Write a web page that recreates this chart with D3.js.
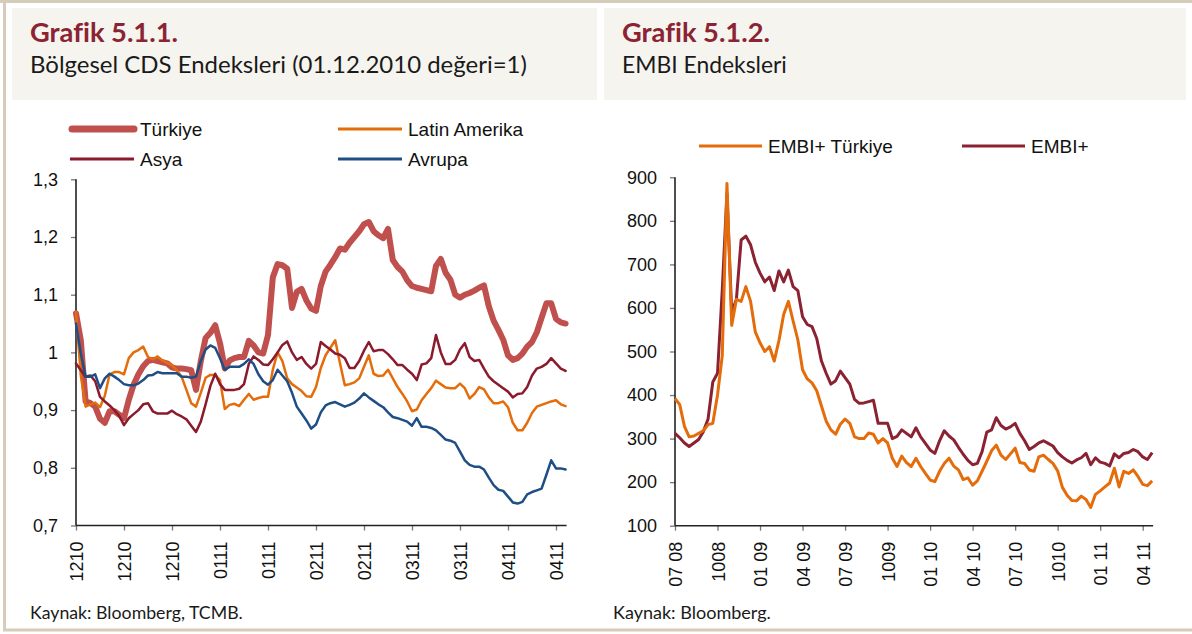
<!DOCTYPE html>
<html><head><meta charset="utf-8">
<script src="https://cdn.jsdelivr.net/npm/d3@7"></script>
<style>body{margin:0;background:#fff;} svg{display:block} text{font-variant-ligatures:none;font-feature-settings:"liga" 0;}</style>
</head><body><svg id="c" width="1192" height="634"></svg>
<script>
// ---------- Grafik 5.1.1 data (daily index, 01.12.2010 = 1) ----------
const cdsTickLabels = ["1210","1210","1210","0111","0111","0211","0211","0311","0311","0411","0411"];
const cdsTickIdx = [0,10,20,30,40,50,60,70,80,90,100];
const cdsYTicks = [0.7,0.8,0.9,1.0,1.1,1.2,1.3];
const cdsYTickLabels = ["0,7","0,8","0,9","1","1,1","1,2","1,3"];
const cdsSeriesNames = ["Türkiye","Latin Amerika","Asya","Avrupa"];

const turkiye = [1.068,1.021,0.915,0.912,0.906,0.885,0.878,0.898,0.898,0.892,
0.886,0.918,0.944,0.962,0.976,0.985,0.987,0.985,0.983,0.981,
0.974,0.972,0.972,0.971,0.969,0.935,0.985,1.025,1.034,1.047,
1.016,0.972,0.986,0.990,0.992,0.992,1.020,1.012,1.000,0.998,
1.030,1.130,1.153,1.151,1.145,1.077,1.105,1.110,1.090,1.076,
1.072,1.115,1.140,1.152,1.165,1.180,1.178,1.190,1.200,1.210,
1.222,1.226,1.210,1.203,1.198,1.214,1.160,1.148,1.140,1.125,
1.115,1.112,1.110,1.108,1.106,1.150,1.162,1.138,1.126,1.100,
1.095,1.100,1.103,1.107,1.112,1.116,1.080,1.055,1.039,1.022,
0.995,0.987,0.990,0.998,1.010,1.018,1.035,1.060,1.085,1.085,
1.058,1.052,1.050];
const latinAmerika = [1.070,0.960,0.906,0.910,0.913,0.905,0.925,0.962,0.966,0.966,
0.962,0.990,1.000,1.004,1.010,0.992,0.988,0.993,0.986,0.982,
0.978,0.969,0.958,0.935,0.912,0.906,0.930,0.956,0.961,0.961,
0.952,0.902,0.909,0.911,0.907,0.918,0.928,0.918,0.921,0.923,
0.923,0.970,1.000,0.985,0.955,0.945,0.939,0.933,0.924,0.923,
0.940,0.973,0.995,1.008,1.021,0.981,0.943,0.945,0.948,0.955,
0.975,0.995,0.963,0.959,0.960,0.970,0.955,0.940,0.928,0.915,
0.898,0.901,0.917,0.928,0.938,0.951,0.945,0.939,0.938,0.938,
0.946,0.938,0.920,0.928,0.940,0.936,0.922,0.912,0.912,0.915,
0.905,0.878,0.865,0.865,0.878,0.895,0.906,0.909,0.912,0.915,
0.917,0.910,0.907];
const asya = [0.981,0.969,0.958,0.960,0.950,0.923,0.915,0.908,0.900,0.890,
0.874,0.886,0.893,0.900,0.910,0.912,0.898,0.894,0.894,0.894,
0.899,0.893,0.889,0.884,0.873,0.862,0.880,0.910,0.942,0.963,
0.945,0.935,0.935,0.935,0.937,0.945,0.980,0.993,0.987,0.979,
0.978,0.988,1.000,1.013,1.019,1.000,0.987,0.992,0.980,0.972,
0.980,1.018,1.011,1.005,0.998,0.996,0.990,0.973,0.973,0.985,
1.003,1.018,1.002,1.004,1.004,0.997,0.988,0.978,0.978,0.970,
0.963,0.952,0.979,0.981,0.990,1.030,1.000,0.980,0.980,0.987,
1.005,1.016,0.992,0.985,0.987,0.972,0.958,0.950,0.944,0.938,
0.932,0.922,0.928,0.929,0.940,0.960,0.972,0.975,0.980,0.990,
0.981,0.972,0.968];
const avrupa = [1.050,0.998,0.958,0.958,0.962,0.938,0.955,0.963,0.958,0.952,
0.945,0.943,0.943,0.946,0.952,0.960,0.961,0.966,0.964,0.964,
0.964,0.964,0.958,0.958,0.956,0.958,0.985,1.005,1.012,1.008,
0.990,0.970,0.975,0.975,0.975,0.980,0.988,0.980,0.962,0.950,
0.944,0.952,0.970,0.960,0.950,0.930,0.906,0.894,0.882,0.868,
0.875,0.896,0.908,0.912,0.914,0.910,0.906,0.909,0.913,0.920,
0.929,0.922,0.916,0.910,0.905,0.896,0.888,0.886,0.883,0.880,
0.873,0.886,0.871,0.871,0.869,0.865,0.857,0.849,0.847,0.843,
0.828,0.813,0.805,0.802,0.802,0.797,0.783,0.770,0.762,0.760,
0.750,0.740,0.738,0.741,0.754,0.758,0.761,0.764,0.788,0.813,
0.799,0.799,0.797];

// ---------- Grafik 5.1.2 data (one value per ~10 days from 07.2008) ----------
const embiTickLabels = ["07 08","1008","01 09","04 09","07 09","1009","01 10","04 10","07 10","1010","01 11","04 11"];
const embiTickMonths = [0,3,6,9,12,15,18,21,24,27,30,33];
const embiYTicks = [100,200,300,400,500,600,700,800,900];
const embiStep = 1/3; // months between values
const embiSeriesNames = ["EMBI+ Türkiye","EMBI+"];
const embiTurkiye = [392,378,328,304,306,312,318,332,335,400,
490,886,560,620,615,649,615,545,520,500,
511,478,525,585,615,570,527,458,437,428,
410,375,340,320,310,333,345,335,304,300,
300,313,310,290,300,290,255,236,260,245,
236,255,236,220,205,201,225,243,255,237,
228,206,210,193,203,225,248,272,285,262,
252,265,278,245,243,228,225,258,262,252,
243,226,188,170,158,157,168,160,142,172,
180,189,198,232,189,225,220,228,213,195,
192,203];
const embiPlus = [312,302,290,282,290,298,316,345,430,450,
640,863,590,620,756,765,745,705,680,660,
671,640,685,660,687,649,640,580,562,557,
530,478,450,425,433,455,440,425,390,381,
382,385,388,335,335,335,300,305,320,312,
304,325,304,289,274,266,295,318,306,297,
280,264,250,240,243,270,315,320,348,330,
322,327,335,312,295,275,282,290,295,289,
283,268,258,250,244,251,256,266,240,256,
246,243,237,265,256,266,268,275,270,258,
252,268];

// ---------- colours ----------
const cdsColors = ["#C0504D","#E46C0A","#8B1A2C","#1F4E85"];
const cdsWidths = [6,2.5,2.5,2.5];
const embiColors = ["#E46C0A","#8B2232"];

const svg = d3.select("#c");
const beige = "#D6CCB9";
const headerFill = "#F5F4EF";
const titleColor = "#8B2332";
const titleFont = "Lato, DejaVu Sans, sans-serif";
const arial = "Liberation Sans, Arial, sans-serif";

// frame
svg.append("line").attr("x1",0).attr("x2",1192).attr("y1",1.5).attr("y2",1.5).attr("stroke",beige).attr("stroke-width",3);
svg.append("line").attr("x1",4.5).attr("x2",4.5).attr("y1",0).attr("y2",631).attr("stroke",beige).attr("stroke-width",3);
svg.append("line").attr("x1",3).attr("x2",1192).attr("y1",630).attr("y2",630).attr("stroke",beige).attr("stroke-width",3);

// header boxes
svg.append("rect").attr("x",12).attr("y",8).attr("width",585).attr("height",92).attr("fill",headerFill);
svg.append("rect").attr("x",604).attr("y",8).attr("width",582).attr("height",92).attr("fill",headerFill);

function fitText(sel, width){
  const w = sel.node().getComputedTextLength();
  const fs = parseFloat(sel.attr("font-size"));
  sel.attr("font-size", fs*width/w);
}
function headerText(x,y,txt,size,bold,color,width){
  const t = svg.append("text").attr("x",x).attr("y",y).text(txt)
    .attr("font-family",titleFont).attr("font-size",size)
    .attr("font-weight",bold?"bold":"normal").attr("fill",color);
  fitText(t,width);
  return t;
}
headerText(30,42,"Grafik 5.1.1.",20,true,titleColor,148);
headerText(30,73,"Bölgesel CDS Endeksleri (01.12.2010 değeri=1)",17,false,"#1a1a1a",497);
headerText(622,42,"Grafik 5.1.2.",20,true,titleColor,148);
headerText(622,73,"EMBI Endeksleri",17,false,"#1a1a1a",165);
headerText(30,619,"Kaynak: Bloomberg, TCMB.",12,false,"#1a1a1a",213);
headerText(613,619,"Kaynak: Bloomberg.",12,false,"#1a1a1a",158);

// ---------- left chart ----------
const xL = d3.scaleLinear().domain([0,100]).range([76,556]);
const yL = d3.scaleLinear().domain([0.7,1.3]).range([525.5,179.3]);

function styleAxis(g){
  g.select(".domain").remove();
  g.selectAll(".tick line").attr("stroke","#777").attr("stroke-width",1.3);
  g.selectAll("text").attr("font-family",arial).attr("fill","#111");
}

const gLy = svg.append("g").attr("transform","translate(76,0)")
  .call(d3.axisLeft(yL).tickValues(cdsYTicks).tickSize(5).tickPadding(13)
    .tickFormat((d,i)=>cdsYTickLabels[i]));
styleAxis(gLy); gLy.selectAll("text").attr("font-size",18);

const gLx = svg.append("g").attr("transform","translate(0,525.5)")
  .call(d3.axisBottom(xL).tickValues(cdsTickIdx).tickSize(5)
    .tickFormat((d,i)=>cdsTickLabels[i]));
styleAxis(gLx);
gLx.selectAll("text").attr("font-size",18).attr("transform","rotate(-90)")
  .attr("text-anchor","end").attr("x",-16).attr("y",0).attr("dy","0.36em");

svg.append("line").attr("x1",xL(0)).attr("x2",xL(0)).attr("y1",yL(1.3)).attr("y2",yL(0.7)).attr("stroke","#222").attr("stroke-width",1.6);
svg.append("line").attr("x1",xL(0)).attr("x2",xL(turkiye.length-1)+1).attr("y1",yL(0.7)).attr("y2",yL(0.7)).attr("stroke","#222").attr("stroke-width",1.6);

const cdsData = [turkiye,latinAmerika,asya,avrupa];
const lineL = d3.line().x((d,i)=>xL(i)).y(d=>yL(d));
cdsData.forEach((s,k)=>{
  svg.append("path").attr("d",lineL(s)).attr("fill","none")
    .attr("stroke",cdsColors[k]).attr("stroke-width",cdsWidths[k])
    .attr("stroke-linejoin","round").attr("stroke-linecap","round");
});

const legL = [[70,129],[338,129],[70,159],[338,159]];
cdsSeriesNames.forEach((n,k)=>{
  const [lx,ly] = legL[k];
  svg.append("line").attr("x1",lx+(k===0?2:0)).attr("x2",lx+64).attr("y1",ly).attr("y2",ly)
    .attr("stroke",cdsColors[k]).attr("stroke-width",k===0?7:3).attr("stroke-linecap",k===0?"round":"butt");
  svg.append("text").attr("x",lx+70).attr("y",ly).attr("dy","0.36em").text(n)
    .attr("font-family",arial).attr("font-size",19).attr("fill","#111");
});

// ---------- right chart ----------
const xR = d3.scaleLinear().domain([0,33]).range([675,1142.7]);
const yR = d3.scaleLinear().domain([100,900]).range([525.7,177.3]);

const gRy = svg.append("g").attr("transform","translate(675,0)")
  .call(d3.axisLeft(yR).tickValues(embiYTicks).tickSize(5).tickPadding(13).tickFormat(d3.format("d")));
styleAxis(gRy); gRy.selectAll("text").attr("font-size",18);

const gRx = svg.append("g").attr("transform","translate(0,525.7)")
  .call(d3.axisBottom(xR).tickValues(embiTickMonths).tickSize(5).tickFormat((d,i)=>embiTickLabels[i]));
styleAxis(gRx);
gRx.selectAll("text").attr("font-size",18).attr("transform","rotate(-90)")
  .attr("text-anchor","end").attr("x",-16).attr("y",0).attr("dy","0.36em");

const lastM = (embiPlus.length-1)*embiStep;
svg.append("line").attr("x1",xR(0)).attr("x2",xR(0)).attr("y1",yR(900)).attr("y2",yR(100)).attr("stroke","#222").attr("stroke-width",1.6);
svg.append("line").attr("x1",xR(0)).attr("x2",xR(lastM)+1).attr("y1",yR(100)).attr("y2",yR(100)).attr("stroke","#222").attr("stroke-width",1.6);

const lineR = d3.line().x((d,i)=>xR(i*embiStep)).y(d=>yR(d));
[[embiPlus,1],[embiTurkiye,0]].forEach(([s,k])=>{
  svg.append("path").attr("d",lineR(s)).attr("fill","none")
    .attr("stroke",embiColors[k]).attr("stroke-width",3)
    .attr("stroke-linejoin","round");
});

const legR = [[699,146],[962,146]];
embiSeriesNames.forEach((n,k)=>{
  const [lx,ly] = legR[k];
  svg.append("line").attr("x1",lx).attr("x2",lx+63).attr("y1",ly).attr("y2",ly)
    .attr("stroke",embiColors[k]).attr("stroke-width",3);
  svg.append("text").attr("x",lx+69).attr("y",ly).attr("dy","0.36em").text(n)
    .attr("font-family",arial).attr("font-size",19).attr("fill","#111");
});
</script>
</body></html>
